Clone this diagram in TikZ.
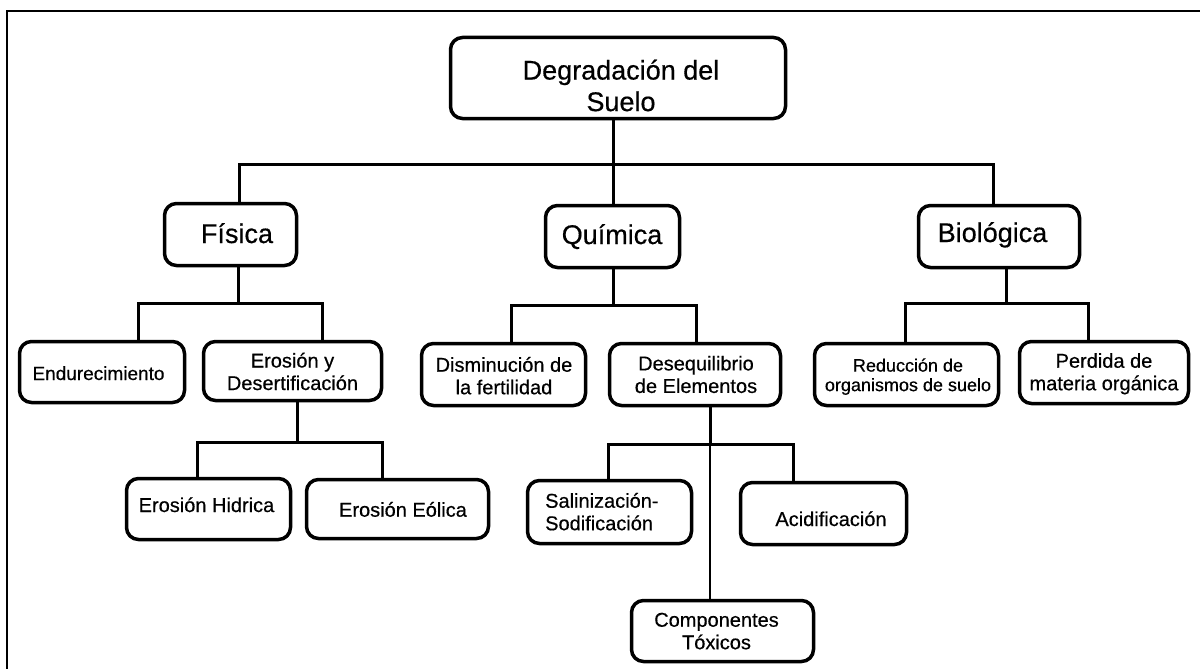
\documentclass[tikz,border=0pt]{standalone}
\usepackage{fontspec}
\setmainfont{Liberation Sans}[FakeBold=0.5]
\begin{document}
\begin{tikzpicture}[x=1pt,y=-1pt,
  box/.style={draw, line width=3.5pt, rounded corners=12pt, inner sep=0pt},
  lbl/.style={inner sep=0pt},
  fbig/.style={font=\fontsize{27}{31.5}\selectfont},
  fmid/.style={font=\fontsize{20}{22.5}\selectfont},
  fsml/.style={font=\fontsize{18}{19.5}\selectfont},
  link/.style={line width=3pt},
  thinlink/.style={line width=2pt},
  frameline/.style={line width=2pt}]
\useasboundingbox (0,0) rectangle (1200,669);
% frame
\draw[frameline] (7,671) -- (7,11) -- (1202,11);

% boxes
\node[box, minimum width=335pt, minimum height=81pt] (root) at (618,78) {};
\node[box, minimum width=132pt, minimum height=62pt] (fis) at (230.5,234.5) {};
\node[box, minimum width=134pt, minimum height=62pt] (qui) at (612.5,236.5) {};
\node[box, minimum width=161pt, minimum height=62pt] (bio) at (999,236.5) {};
\node[box, minimum width=165pt, minimum height=61pt] (end) at (102,372) {};
\node[box, minimum width=178pt, minimum height=59pt] (erd) at (292.5,371) {};
\node[box, minimum width=164pt, minimum height=62pt] (dis) at (503.5,374.5) {};
\node[box, minimum width=171pt, minimum height=62pt] (deq) at (695,374.5) {};
\node[box, minimum width=184pt, minimum height=62pt] (red) at (906.5,374.5) {};
\node[box, minimum width=169pt, minimum height=62pt] (per) at (1104,372.5) {};
\node[box, minimum width=164pt, minimum height=61pt] (hid) at (208.5,509) {};
\node[box, minimum width=182pt, minimum height=59pt] (eol) at (397.5,509) {};
\node[box, minimum width=164pt, minimum height=63pt] (sal) at (609.5,512) {};
\node[box, minimum width=166pt, minimum height=62pt] (aci) at (823.5,513.5) {};
\node[box, minimum width=182pt, minimum height=61pt] (com) at (722.5,631) {};

% texts
\node[lbl, fbig, align=center] (rootT) at (621,85.5) {Degradación del\\Suelo};
\node[lbl, fbig, anchor=base] (fisT) at (237,243) {Física};
\node[lbl, fbig, anchor=base] (quiT) at (612,244) {Química};
\node[lbl, fbig, anchor=base] (bioT) at (992.5,242) {Biológica};
\node[lbl, font=\fontsize{19}{22}\selectfont, anchor=base] (endT) at (98.5,380) {Endurecimiento};
\node[lbl, fmid, align=center] (erdT) at (292.5,371.5) {Erosión y\\Desertificación};
\node[lbl, fmid, align=center] (disT) at (504,375.7) {Disminución de\\la fertilidad};
\node[lbl, fmid, align=center] (deqT) at (696,374.5) {Desequilibrio\\de Elementos};
\node[lbl, fsml, align=center] (redT) at (908,376.6) {Reducción de\\organismos de suelo};
\node[lbl, fmid, align=center] (perT) at (1104,373.8) {Perdida de\\materia orgánica};
\node[lbl, fmid, anchor=base] (hidT) at (206.5,512) {Erosión Hidrica};
\node[lbl, fmid, anchor=base] (eolT) at (403,516.7) {Erosión Eólica};
\node[lbl, fmid, align=left, anchor=west] (salT) at (545,511.7) {Salinización-\\Sodificación};
\node[lbl, fmid, anchor=base] (aciT) at (831,526) {Acidificación};
\node[lbl, fmid, align=center] (comT) at (716.5,631.1) {Componentes\\Tóxicos};

% connectors: root -> level 1
\coordinate (r0) at ([xshift=-5pt]root.south);
\coordinate (j0) at (r0 |- 0,164);
\draw[link] (r0) -- (j0);
\draw[link] (j0) -| ([xshift=8.5pt]fis.north);
\draw[link] (j0) -| ([xshift=0.5pt]qui.north);
\draw[link] (j0) -| ([xshift=-6pt]bio.north);

% Fisica
\coordinate (f1) at ([xshift=7.5pt]fis.south);
\coordinate (j1) at (f1 |- 0,303);
\draw[link] (f1) -- (j1);
\draw[link] (j1) -| ([xshift=36pt]end.north);
\draw[link] (j1) -| ([xshift=29.5pt]erd.north);

% Erosion y Desertificacion
\coordinate (e1) at ([xshift=4.5pt]erd.south);
\coordinate (j2) at (e1 |- 0,442);
\draw[link] (e1) -- (j2);
\draw[link] (j2) -| ([xshift=-11.5pt]hid.north);
\draw[link] (j2) -| ([xshift=-15.5pt]eol.north);

% Quimica
\coordinate (q1) at ([xshift=0.5pt]qui.south);
\coordinate (j3) at (q1 |- 0,305);
\draw[link] (q1) -- (j3);
\draw[link] (j3) -| ([xshift=7.5pt]dis.north);
\draw[link] (j3) -| ([xshift=1pt]deq.north);

% Desequilibrio
\coordinate (d1) at ([xshift=15pt]deq.south);
\coordinate (j4) at (d1 |- 0,444);
\draw[link] (d1) -- (j4);
\draw[link] (j4) -| ([xshift=-1.5pt]sal.north);
\draw[link] (j4) -| ([xshift=-30.5pt]aci.north);
\draw[thinlink] (j4) -| ([xshift=-12.5pt]com.north);

% Biologica
\coordinate (b1) at ([xshift=7pt]bio.south);
\coordinate (j5) at (b1 |- 0,303);
\draw[link] (b1) -- (j5);
\draw[link] (j5) -| ([xshift=-1.5pt]red.north);
\draw[link] (j5) -| ([xshift=-16pt]per.north);
\end{tikzpicture}
\end{document}
